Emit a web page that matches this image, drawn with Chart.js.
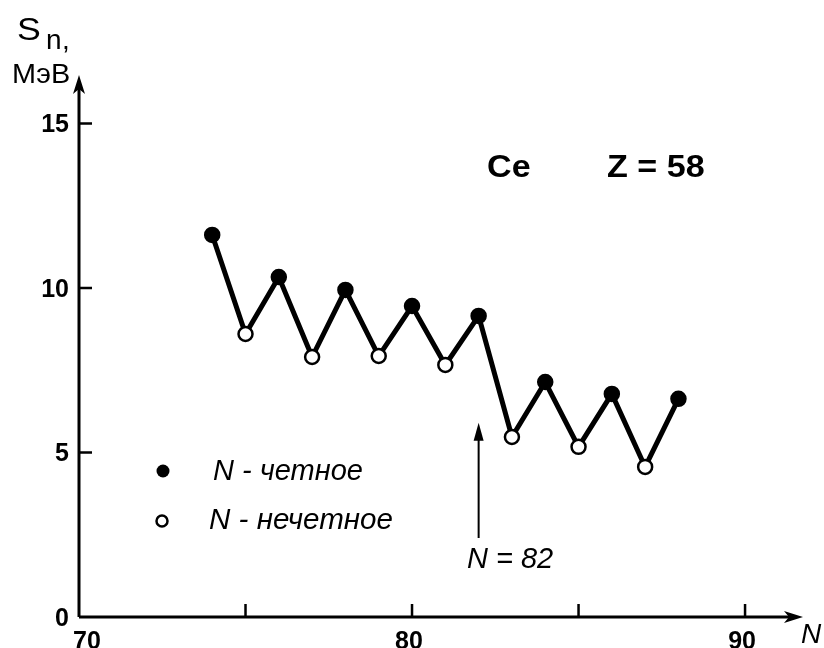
<!DOCTYPE html>
<html>
<head>
<meta charset="utf-8">
<script src="https://cdn.jsdelivr.net/npm/chart.js@4"></script>
<style>
    html, body { margin: 0; padding: 0; background: #fff; }
    #wrap { width: 824px; height: 648px; }
</style>
</head>
<body>
<div id="wrap"><canvas id="chart" width="824" height="648"></canvas></div>
<script>
// ============= Data =============
const neutronNumbers = [74, 75, 76, 77, 78, 79, 80, 81, 82, 83, 84, 85, 86, 87, 88];
const snValues = [11.61, 8.60, 10.33, 7.90, 9.94, 7.93, 9.45, 7.66, 9.15, 5.47, 7.14, 5.17, 6.78, 4.56, 6.63];
const xTickValues = [75, 80, 85, 90];
const xTickLabels = ['70', '80', '90'];
const yTickValues = [5, 10, 15];
const yTickLabels = ['0', '5', '10', '15'];

const FONT = '"Liberation Sans", Arial, sans-serif';

const points = neutronNumbers.map((n, i) => ({ x: n, y: snValues[i] }));
const fills = neutronNumbers.map(n => (n % 2 === 0 ? '#000' : '#fff'));

function arrowHead(ctx, x, y, dir) {
    // dir: 'up' or 'right'
    ctx.beginPath();
    if (dir === 'up') {
        ctx.moveTo(x, y);
        ctx.lineTo(x - 6, y + 19);
        ctx.lineTo(x, y + 14);
        ctx.lineTo(x + 6, y + 19);
    } else {
        ctx.moveTo(x, y);
        ctx.lineTo(x - 19, y - 6);
        ctx.lineTo(x - 14, y);
        ctx.lineTo(x - 19, y + 6);
    }
    ctx.closePath();
    ctx.fill();
}

// text stretched horizontally (the scan's lettering is a bit wider than Arial)
function wideText(ctx, text, x, y, sx) {
    ctx.save();
    ctx.translate(x, y);
    ctx.scale(sx, 1);
    ctx.fillText(text, 0, 0);
    ctx.restore();
}

const decorPlugin = {
    id: 'decor',
    beforeDatasetsDraw(chart) {
        const ctx = chart.ctx;
        const xs = chart.scales.x, ys = chart.scales.y;
        const x0 = xs.getPixelForValue(70);
        const y0 = ys.getPixelForValue(0);
        ctx.save();
        ctx.strokeStyle = '#000';
        ctx.fillStyle = '#000';
        ctx.lineWidth = 3;
        // axes
        ctx.beginPath();
        ctx.moveTo(x0, y0);
        ctx.lineTo(x0, ys.getPixelForValue(ys.max) + 8);
        ctx.moveTo(x0, y0);
        ctx.lineTo(xs.getPixelForValue(xs.max) - 8, y0);
        ctx.stroke();
        arrowHead(ctx, x0, ys.getPixelForValue(ys.max), 'up');
        arrowHead(ctx, xs.getPixelForValue(xs.max), y0, 'right');
        // ticks
        ctx.lineWidth = 2.5;
        ctx.beginPath();
        yTickValues.forEach(v => {
            const py = ys.getPixelForValue(v);
            ctx.moveTo(x0, py);
            ctx.lineTo(x0 + 13, py);
        });
        xTickValues.forEach(v => {
            const px = xs.getPixelForValue(v);
            ctx.moveTo(px, y0);
            ctx.lineTo(px, y0 - 13);
        });
        ctx.stroke();

        // tick labels
        ctx.font = 'bold 25px ' + FONT;
        ctx.textAlign = 'right';
        ctx.textBaseline = 'middle';
        [0].concat(yTickValues).forEach((v, i) => {
            ctx.fillText(yTickLabels[i], x0 - 10, ys.getPixelForValue(v) + 2);
        });
        ctx.textAlign = 'center';
        ctx.textBaseline = 'top';
        [70, 80, 90].forEach((v, i) => {
            const dx = v === 70 ? 8 : -3;
            ctx.fillText(xTickLabels[i], xs.getPixelForValue(v) + dx, y0 + 13);
        });

        // axis titles
        ctx.textAlign = 'left';
        ctx.textBaseline = 'alphabetic';
        ctx.font = '31px ' + FONT;
        wideText(ctx, 'S', 17, 40, 1.15);
        ctx.font = '28px ' + FONT;
        ctx.fillText('n', 46, 49);
        ctx.fillText(',', 62, 49);
        wideText(ctx, 'МэВ', 12, 83, 1.03);
        ctx.font = 'italic 28px ' + FONT;
        ctx.fillText('N', 801, 643);

        // element label
        ctx.font = 'bold 31px ' + FONT;
        wideText(ctx, 'Ce', 487, 177, 1.1);
        wideText(ctx, 'Z = 58', 607, 177, 1.1);

        // legend
        ctx.font = 'italic 29px ' + FONT;
        ctx.textBaseline = 'middle';
        wideText(ctx, 'N - четное', 213, 472, 1.0);
        wideText(ctx, 'N - нечетное', 209, 521, 1.02);
        ctx.beginPath();
        ctx.arc(163, 471, 6.5, 0, Math.PI * 2);
        ctx.fill();
        ctx.lineWidth = 2.5;
        ctx.fillStyle = '#fff';
        ctx.beginPath();
        ctx.arc(162, 521, 5.5, 0, Math.PI * 2);
        ctx.fill();
        ctx.stroke();
        ctx.fillStyle = '#000';

        // N = 82 marker
        const px82 = xs.getPixelForValue(82);
        ctx.lineWidth = 2;
        ctx.beginPath();
        ctx.moveTo(px82, ys.getPixelForValue(2.4));
        ctx.lineTo(px82, ys.getPixelForValue(5.9) + 12);
        ctx.stroke();
        ctx.beginPath();
        ctx.moveTo(px82, ys.getPixelForValue(5.9));
        ctx.lineTo(px82 - 5, ys.getPixelForValue(5.9) + 18);
        ctx.lineTo(px82 + 5, ys.getPixelForValue(5.9) + 18);
        ctx.closePath();
        ctx.fill();
        ctx.font = 'italic 29px ' + FONT;
        ctx.textBaseline = 'alphabetic';
        ctx.fillText('N = 82', 467, 568);
        ctx.restore();
    }
};

new Chart(document.getElementById('chart'), {
    type: 'line',
    data: {
        datasets: [{
            data: points,
            borderColor: '#000',
            borderWidth: 5,
            tension: 0,
            pointRadius: 7,
            pointBorderWidth: 2.5,
            pointBackgroundColor: fills,
            pointBorderColor: '#000'
        }]
    },
    options: {
        responsive: false,
        animation: false,
        events: [],
        layout: { padding: { left: 79, right: 21, top: 75, bottom: 31 } },
        plugins: { legend: { display: false }, tooltip: { enabled: false } },
        scales: {
            x: { type: 'linear', min: 70, max: 91.74, display: false },
            y: { type: 'linear', min: 0, max: 16.47, display: false }
        }
    },
    plugins: [decorPlugin]
});
</script>
</body>
</html>
